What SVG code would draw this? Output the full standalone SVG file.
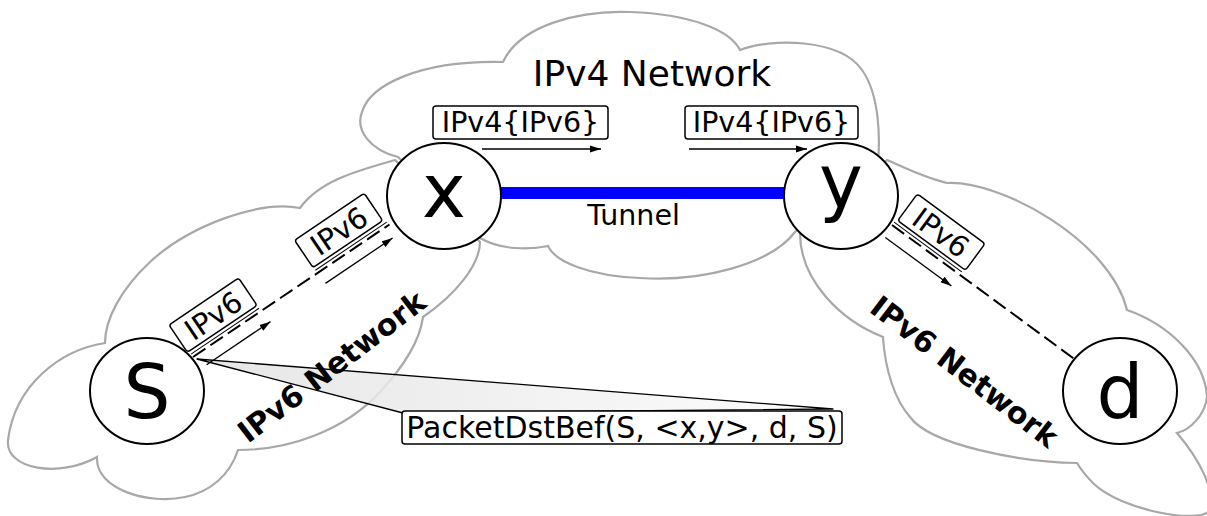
<svg xmlns="http://www.w3.org/2000/svg" width="1207" height="516" viewBox="0 0 1207 516">
<style>
.cloud{fill:none;stroke:#a8a8a8;stroke-width:2.2}
.node{fill:#fff;stroke:#000;stroke-width:2}
.nl{font-family:"DejaVu Sans",sans-serif;font-size:74px;text-anchor:middle;fill:#000}
.t{font-family:"DejaVu Sans",sans-serif;fill:#000;text-anchor:middle}
.box{fill:#fff;stroke:#000;stroke-width:1.5}
.arr{stroke:#000;stroke-width:1.3;fill:none}
.dash{stroke:#000;stroke-width:2;stroke-dasharray:15 6;fill:none}
.thin{stroke:#000;stroke-width:1;fill:none}
.bold{font-family:"DejaVu Sans",sans-serif;font-weight:bold;font-size:30px;text-anchor:middle;fill:#000}
</style>
<defs>
<marker id="ah" markerUnits="userSpaceOnUse" markerWidth="12" markerHeight="8" refX="11" refY="4" orient="auto">
<path d="M0,0.5 L11,4 L0,7.5 z" fill="#000"/>
</marker>
<linearGradient id="cg" x1="0" y1="0" x2="1" y2="0">
<stop offset="0" stop-color="#e2e2e2"/>
<stop offset="1" stop-color="#fcfcfc"/>
</linearGradient>
</defs>
<rect width="1207" height="516" fill="#fff"/>
<g id="clouds">
<path id="ipv4-cloud" class="cloud" d="M398,157 C370,150 355,130 362,112 C370,85 420,60 503,62 C520,25 580,10 630,12 C690,14 730,30 740,50 C770,38 840,38 862,70 C880,95 880,140 878,162 L795,232 C770,265 700,282 640,278 C590,276 555,262 548,246 C530,250 500,250 480,238 Z"/>
<path id="ipv6-left-cloud" class="cloud" d="M395,160 C360,170 320,180 300,208 C260,200 190,225 150,262 C120,290 105,320 105,343 C60,350 15,385 8,440 C5,470 60,478 97,457 C95,490 150,505 185,497 C210,492 230,475 238,450 C290,450 345,430 380,392 C405,365 420,340 423,317 C455,295 480,265 480,242 Z"/>
<path id="ipv6-right-cloud" class="cloud" d="M887,160 C905,168 925,178 947,183 C1000,180 1110,240 1127,310 C1170,325 1205,360 1207,397 C1205,415 1190,430 1177,433 C1200,460 1215,490 1210,510 C1200,525 1120,510 1093,483 C1085,475 1080,468 1077,463 C1020,462 930,445 910,417 C895,400 885,370 883,337 C840,320 800,280 800,233 Z"/>
</g>
<text class="t" x="652" y="86" font-size="36">IPv4 Network</text>
<g id="callout">
<path d="M197,359 L833,409 L403,413 Z" fill="url(#cg)" fill-opacity="0.85" stroke="#000" stroke-width="1.3" stroke-linejoin="round"/>
<rect class="box" x="402" y="411" width="440" height="33" rx="3"/>
<text class="t" x="622" y="438" font-size="30">PacketDstBef(S, &lt;x,y&gt;, d, S)</text>
</g>
<g id="connectors">
<line id="tunnel" x1="500" y1="193" x2="786" y2="193" stroke="#0000ff" stroke-width="12"/>
<line class="arr" x1="482" y1="149" x2="601" y2="149" marker-end="url(#ah)"/>
<line class="arr" x1="689" y1="149" x2="807" y2="149" marker-end="url(#ah)"/>
<g id="edge-S-x" transform="translate(193,357) rotate(-34)">
<line class="dash" x1="0" y1="0" x2="237" y2="0"/>
<line class="thin" x1="0" y1="-3.5" x2="82" y2="-3.5"/>
<line class="thin" x1="150" y1="-3.5" x2="236" y2="-3.5"/>
<line class="arr" x1="7" y1="14" x2="84" y2="14" marker-end="url(#ah)"/>
<line class="arr" x1="151" y1="13" x2="232" y2="13" marker-end="url(#ah)"/>
</g>
<g id="edge-y-d" transform="translate(892,225) rotate(36.3)">
<line class="dash" x1="0" y1="0" x2="225" y2="0"/>
<line class="thin" x1="0" y1="-3.5" x2="84" y2="-3.5"/>
<line class="arr" x1="2" y1="14" x2="84" y2="14" marker-end="url(#ah)"/>
</g>
</g>
<text class="t" x="633.5" y="225" font-size="28.5">Tunnel</text>
<g id="labels">
<g transform="translate(193,357) rotate(-34)">
<rect class="box" x="-2" y="-40" width="84" height="33" rx="3"/>
<text class="t" x="40" y="-12.5" font-size="29">IPv6</text>
<rect class="box" x="149.5" y="-40" width="84" height="33" rx="3"/>
<text class="t" x="191.5" y="-12.5" font-size="29">IPv6</text>
</g>
<g transform="translate(892,225) rotate(36.3)">
<rect class="box" x="2" y="-40" width="84" height="33" rx="3"/>
<text class="t" x="44" y="-12.5" font-size="29">IPv6</text>
</g>
<g id="box-x-out"><rect class="box" x="433" y="106" width="175" height="33" rx="3"/>
<text class="t" x="520.5" y="132" font-size="28.5">IPv4{IPv6}</text></g>
<g id="box-y-in"><rect class="box" x="685" y="106" width="173" height="33" rx="3"/>
<text class="t" x="771.5" y="132" font-size="28.5">IPv4{IPv6}</text></g>
<text class="bold" transform="translate(338,375) rotate(-37.5)">IPv6 Network</text>
<text class="bold" transform="translate(958,380) rotate(37.5)">IPv6 Network</text>
</g>
<g id="node-S"><ellipse class="node" cx="147" cy="391" rx="57" ry="53"/><text class="nl" x="147" y="418">S</text></g>
<g id="node-x"><ellipse class="node" cx="444" cy="196" rx="57" ry="53"/><text class="nl" x="444" y="217">x</text></g>
<g id="node-y"><ellipse class="node" cx="841" cy="196" rx="57" ry="53"/><text class="nl" x="841" y="207">y</text></g>
<g id="node-d"><ellipse class="node" cx="1120" cy="391" rx="57" ry="53"/><text class="nl" x="1120" y="418">d</text></g>
</svg>
